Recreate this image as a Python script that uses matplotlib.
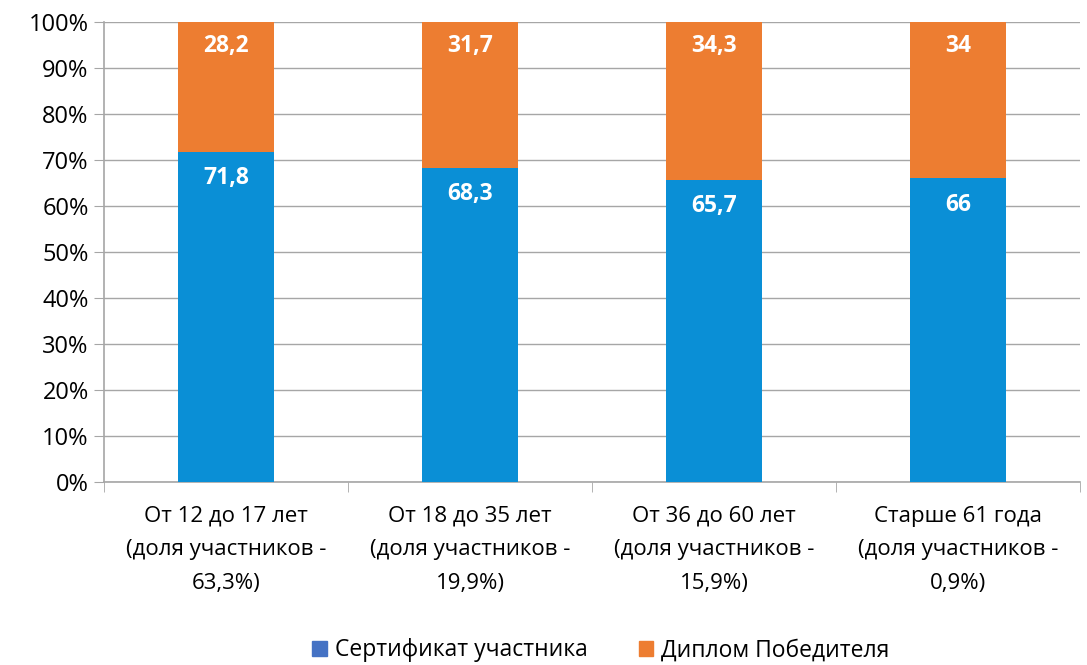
import matplotlib.pyplot as plt
import numpy as np

plt.rcParams['font.family'] = ['Open Sans', 'DejaVu Sans']

categories = ['От 12 до 17 лет\n(доля участников -\n63,3%)',
              'От 18 до 35 лет\n(доля участников -\n19,9%)',
              'От 36 до 60 лет\n(доля участников -\n15,9%)',
              'Старше 61 года\n(доля участников -\n0,9%)']
cert = [71.8, 68.3, 65.7, 66]
diploma = [28.2, 31.7, 34.3, 34]
cert_labels = ['71,8', '68,3', '65,7', '66']
diploma_labels = ['28,2', '31,7', '34,3', '34']

blue = '#0A8FD6'
orange = '#ED7D31'
grid = '#A6A6A6'

fig = plt.figure(figsize=(10.87, 6.65), dpi=100)
ax = fig.add_axes([0.0957, 0.2752, 0.8979, 0.6917])

x = np.arange(len(categories))
w = 0.395
ax.bar(x, cert, w, color=blue, zorder=3)
ax.bar(x, diploma, w, bottom=cert, color=orange, zorder=3)

for i in range(len(x)):
    ax.annotate(cert_labels[i], (x[i], cert[i]), xytext=(0, -19), textcoords='offset points',
                ha='center', va='center', color='white', fontsize=16.5, fontweight='bold', zorder=4)
    ax.annotate(diploma_labels[i], (x[i], cert[i] + diploma[i]), xytext=(0, -17), textcoords='offset points',
                ha='center', va='center', color='white', fontsize=16.5, fontweight='bold', zorder=4)

ax.set_xlim(-0.5, len(x) - 0.5)
ax.set_ylim(0, 100)
ax.set_yticks(np.arange(0, 101, 10))
ax.set_yticklabels(['%d%%' % v for v in range(0, 101, 10)])
ax.yaxis.grid(True, color=grid, linewidth=1, zorder=0)
ax.set_xticks(x)
ax.set_xticklabels(categories, fontsize=16, linespacing=1.8)
ax.set_xticks(np.arange(-0.5, len(x) + 0.5, 1), minor=True)
ax.tick_params(axis='x', which='major', length=0, pad=17)
ax.tick_params(axis='x', which='minor', length=7, color=grid, direction='out')
ax.tick_params(axis='y', length=7, color=grid, labelsize=17, pad=4)
for s in ['top', 'right']:
    ax.spines[s].set_visible(False)
for s in ['left', 'bottom']:
    ax.spines[s].set_color(grid)
    ax.spines[s].set_linewidth(1.2)

handles = [plt.Rectangle((0, 0), 1, 1, color='#4472C4'), plt.Rectangle((0, 0), 1, 1, color=orange)]
fig.legend(handles, ['Сертификат участника', 'Диплом Победителя'], loc='center',
           bbox_to_anchor=(0.553, 0.022), ncol=2, frameon=False, fontsize=16.5,
           handlelength=0.65, handleheight=0.65, handletextpad=0.35, columnspacing=2.2)

fig.savefig('out.png', dpi=100)
